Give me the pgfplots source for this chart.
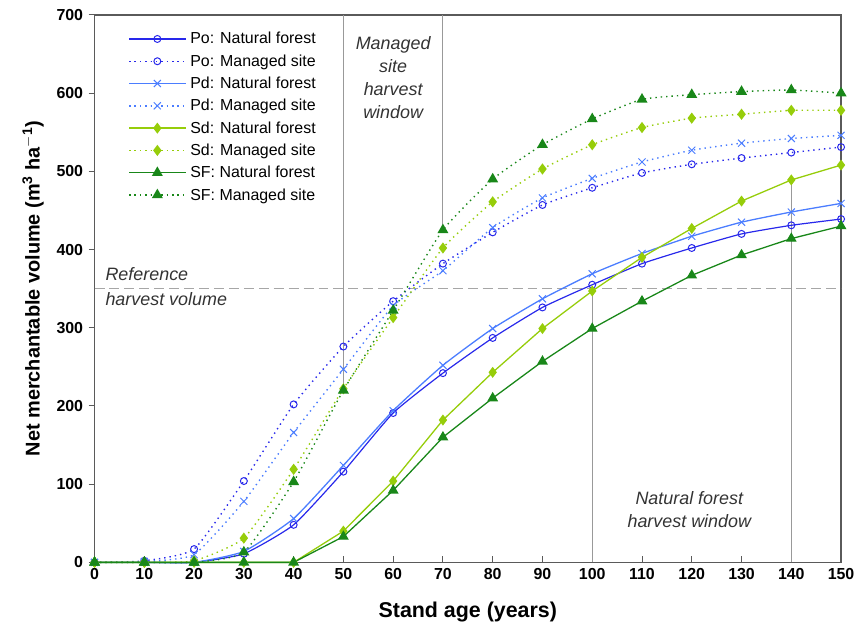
\documentclass[border=0pt]{standalone}
\usepackage{pgfplots}
\pgfplotsset{compat=1.18}
\usepackage{fontspec}
\setmainfont{Liberation Sans}
\definecolor{poC}{RGB}{40,40,235}
\definecolor{pdC}{RGB}{75,125,255}
\definecolor{sdC}{RGB}{150,205,10}
\definecolor{sfC}{RGB}{25,135,25}
\definecolor{frameC}{RGB}{90,90,90}
\begin{document}
\begin{tikzpicture}
\useasboundingbox (-95pt,-70pt) rectangle (764pt,565pt);
\begin{axis}[
  at={(0pt,0pt)}, anchor=south west,
  scale only axis, width=750pt, height=550pt,
  xmin=0, xmax=150, ymin=0, ymax=700,
  xtick={0,10,...,150}, ytick={0,100,...,700},
  xtick pos=bottom, ytick pos=left,
  xtick align=inside, ytick align=outside,
  major tick length=6pt,
  axis line style={frameC, line width=1.4pt},
  every tick/.style={frameC, line width=1pt},
  tick label style={font=\fontsize{16}{18}\selectfont\bfseries},
  xticklabel style={yshift=-3pt},
  yticklabel style={xshift=-2pt},
  /pgf/number format/assume math mode=true,
  xlabel={\bfseries Stand age (years)},
  ylabel={\bfseries Net merchantable volume (m\textsuperscript{3} ha\textsuperscript{$-$1})},
  xlabel style={font=\fontsize{21.5}{24}\selectfont, yshift=-15pt},
  ylabel style={font=\fontsize{20}{24}\selectfont, yshift=6pt},
  legend style={draw=none, fill=none, at={(0.045,0.972)}, anchor=north west,
    font=\fontsize{16}{18}\selectfont, row sep=5.3pt, inner sep=0pt,
    nodes={inner xsep=4pt}},
  legend cell align=left,
  legend image code/.code={\draw[mark repeat=2,mark phase=2,#1] plot coordinates {(0cm,0cm) (1cm,0cm) (2cm,0cm)};},
  clip=false,
]
% reference lines
\addplot[gray!70, dashed, dash pattern=on 10pt off 5pt, line width=1.2pt, forget plot] coordinates {(0,350) (150,350)};
\addplot[gray!80, line width=1pt, forget plot] coordinates {(50,700) (50,220)};
\addplot[gray!80, line width=1pt, forget plot] coordinates {(70,700) (70,425)};
\addplot[gray!80, line width=1pt, forget plot] coordinates {(100,0) (100,347)};
\addplot[gray!80, line width=1pt, forget plot] coordinates {(140,0) (140,489)};
% Po natural
\addplot[poC, line width=1.2pt, smooth, tension=0.3, mark=o, mark size=3.5pt, mark options={solid, line width=1pt}] coordinates {
(0,0) (10,0) (20,0) (30,11) (40,48) (50,116) (60,191) (70,242) (80,287) (90,326) (100,355) (110,382) (120,402) (130,420) (140,431) (150,439)};
\addlegendentry{Po: Natural forest}
% Po managed
\addplot[poC, line width=1.4pt, dash pattern=on 1.4pt off 4pt, smooth, tension=0.3, mark=o, mark size=3.5pt, mark options={solid, line width=1pt}] coordinates {
(0,0) (10,2) (20,17) (30,104) (40,202) (50,276) (60,334) (70,382) (80,422) (90,457) (100,479) (110,498) (120,509) (130,517) (140,524) (150,531)};
\addlegendentry{Po: Managed site}
% Pd natural
\addplot[pdC, line width=1.3pt, smooth, tension=0.3, mark=x, mark size=5pt, mark options={solid, line width=1pt}] coordinates {
(0,0) (10,0) (20,0) (30,14) (40,56) (50,124) (60,194) (70,252) (80,299) (90,337) (100,369) (110,395) (120,417) (130,435) (140,448) (150,459)};
\addlegendentry{Pd: Natural forest}
% Pd managed
\addplot[pdC, line width=1.4pt, dash pattern=on 1.4pt off 4pt, smooth, tension=0.3, mark=x, mark size=5pt, mark options={solid, line width=1pt}] coordinates {
(0,0) (10,1) (20,10) (30,78) (40,166) (50,247) (60,328) (70,373) (80,428) (90,466) (100,491) (110,512) (120,527) (130,536) (140,542) (150,546)};
\addlegendentry{Pd: Managed site}
% Sd natural
\addplot[sdC, line width=1.3pt, mark=diamond*, mark size=4.5pt, mark options={solid}] coordinates {
(0,0) (10,0) (20,0) (30,0) (40,0) (50,40) (60,104) (70,182) (80,243) (90,299) (100,347) (110,390) (120,427) (130,462) (140,489) (150,508)};
\addlegendentry{Sd: Natural forest}
% Sd managed
\addplot[sdC, line width=1.4pt, dash pattern=on 1.4pt off 4pt, smooth, tension=0.3, mark=diamond*, mark size=4.5pt, mark options={solid}] coordinates {
(0,0) (10,0) (20,2) (30,31) (40,119) (50,222) (60,313) (70,402) (80,461) (90,503) (100,534) (110,556) (120,568) (130,573) (140,578) (150,578)};
\addlegendentry{Sd: Managed site}
% SF natural
\addplot[sfC, line width=1.3pt, mark=triangle*, mark size=5pt, mark options={solid}] coordinates {
(0,0) (10,0) (20,0) (30,0) (40,0) (50,33) (60,92) (70,160) (80,210) (90,257) (100,299) (110,334) (120,367) (130,393) (140,414) (150,430)};
\addlegendentry{SF: Natural forest}
% SF managed
\addplot[sfC, line width=1.4pt, dash pattern=on 1.4pt off 4pt, smooth, tension=0.3, mark=triangle*, mark size=5pt, mark options={solid}] coordinates {
(0,0) (10,0) (20,0) (30,13) (40,103) (50,220) (60,322) (70,425) (80,490) (90,534) (100,567) (110,592) (120,598) (130,602) (140,604) (150,600)};
\addlegendentry{SF: Managed site}
% annotations
\node[font=\fontsize{18}{23}\selectfont\itshape, align=center, text=black!80, anchor=north] at (axis cs:60,677) {Managed\\site\\harvest\\window};
\node[font=\fontsize{18}{23}\selectfont\itshape, align=left, text=black!80, anchor=west] at (axis cs:1.5,368) {Reference};
\node[font=\fontsize{18}{23}\selectfont\itshape, align=left, text=black!80, anchor=west] at (axis cs:1.5,337) {harvest volume};
\node[font=\fontsize{18}{23}\selectfont\itshape, align=center, text=black!80] at (axis cs:119.5,68) {Natural forest\\harvest window};
\end{axis}
\end{tikzpicture}
\end{document}
